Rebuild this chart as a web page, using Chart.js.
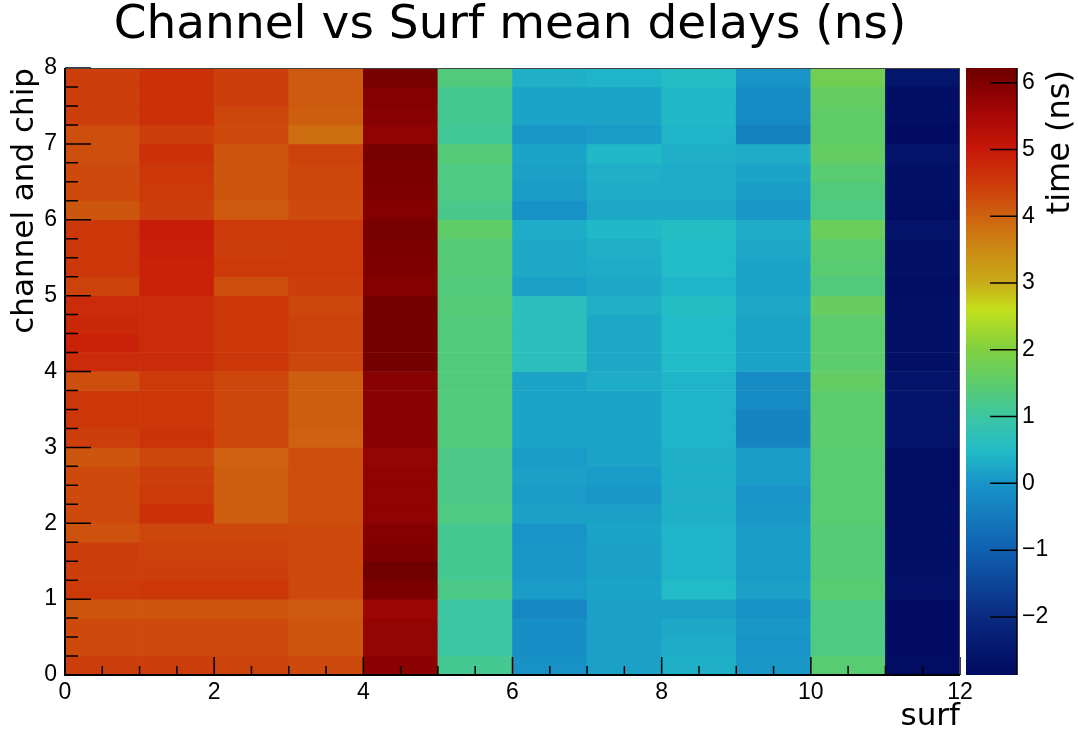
<!DOCTYPE html>
<html>
<head>
<meta charset="utf-8">
<title>Channel vs Surf mean delays</title>
<script src="https://cdn.jsdelivr.net/npm/chart.js@4.4.1/dist/chart.umd.min.js"></script>
<style>
  html, body { margin: 0; padding: 0; background: #fff; }
  #wrap { position: relative; width: 1078px; height: 734px; overflow: hidden; }
  #main { position: absolute; left: 0; top: 0; }
  #zbar { position: absolute; left: 962px; top: 0; }
  #ztitle {
    position: absolute; left: 1039px; top: 270px; width: 200px; height: 36px;
    line-height: 36px; text-align: right; white-space: nowrap;
    font: 32px "DejaVu Sans", sans-serif; color: #000;
    transform-origin: left top; transform: rotate(-90deg);
  }
</style>
</head>
<body>
<div id="wrap">
  <canvas id="main" width="1020" height="734"></canvas>
  <canvas id="zbar" width="116" height="734"></canvas>
  <div id="ztitle">time (ns)</div>
</div>
<script>
// ── Data ──────────────────────────────────────────────────────────────────
// mean delay (ns) per surf, one value per "channel and chip" bin (0 → 7.75, bottom to top)
const surf0  = [4.45,4.3,4.3,4.15,4.5,4.45,4.45,4.2,4.3,4.3,4.3,4.15,4.45,4.55,4.55,4.25,
                4.7,4.85,4.75,4.7,4.4,4.55,4.55,4.55,4.15,4.3,4.3,4.25,4.25,4.45,4.45,4.45];
const surf1  = [4.45,4.3,4.3,4.15,4.55,4.45,4.4,4.35,4.65,4.5,4.45,4.35,4.6,4.55,4.55,4.5,
                4.7,4.7,4.7,4.7,4.85,4.85,4.9,4.95,4.45,4.5,4.55,4.65,4.45,4.65,4.65,4.65];
const surf2  = [4.4,4.3,4.3,4.15,4.55,4.45,4.4,4.35,4.05,4.05,4.05,4.0,4.35,4.35,4.35,4.35,
                4.55,4.55,4.55,4.55,4.25,4.5,4.45,4.5,4.1,4.15,4.15,4.15,4.3,4.35,4.45,4.45];
const surf3  = [4.3,4.15,4.15,4.1,4.3,4.3,4.3,4.3,4.25,4.25,4.25,4.25,4.0,4.05,4.05,4.05,
                4.35,4.4,4.4,4.35,4.45,4.5,4.5,4.5,4.3,4.35,4.35,4.4,3.85,4.05,4.1,4.1];
const surf4  = [5.85,5.75,5.75,5.65,6.05,6.2,6.0,5.95,5.8,5.8,5.8,5.75,5.9,5.9,5.9,5.9,
                6.15,6.15,6.15,6.15,5.95,6.0,6.05,6.1,5.95,6.0,6.05,6.1,5.8,5.9,5.95,6.1];
const surf5  = [1.15,1.0,1.0,1.0,1.25,1.15,1.15,1.15,1.3,1.25,1.25,1.25,1.35,1.35,1.35,1.35,
                1.35,1.35,1.35,1.4,1.35,1.4,1.4,1.55,1.2,1.3,1.3,1.4,1.1,1.15,1.15,1.35];
const surf6  = [-0.05,-0.1,-0.1,-0.25,0.1,0.05,0.05,0.0,0.15,0.1,0.15,0.1,0.2,0.2,0.2,0.2,
                0.65,0.65,0.65,0.65,0.15,0.25,0.25,0.3,-0.05,0.1,0.15,0.2,0.05,0.2,0.2,0.35];
const surf7  = [0.15,0.15,0.15,0.15,0.2,0.15,0.15,0.2,0.15,0.05,0.1,0.2,0.2,0.2,0.2,0.3,
                0.25,0.25,0.25,0.35,0.25,0.3,0.35,0.45,0.25,0.3,0.35,0.45,0.1,0.2,0.2,0.4];
const surf8  = [0.35,0.3,0.25,0.15,0.5,0.4,0.4,0.4,0.35,0.35,0.35,0.35,0.4,0.4,0.4,0.4,
                0.5,0.5,0.5,0.55,0.4,0.5,0.5,0.55,0.25,0.3,0.3,0.35,0.4,0.45,0.45,0.55];
const surf9  = [0.05,0.0,0.05,-0.05,0.15,0.1,0.1,0.1,0.05,0.0,0.1,0.1,-0.3,-0.3,-0.2,-0.15,
                0.2,0.2,0.2,0.25,0.2,0.2,0.25,0.3,0.05,0.1,0.2,0.3,-0.35,-0.2,-0.15,0.0];
const surf10 = [1.45,1.3,1.3,1.3,1.45,1.4,1.4,1.4,1.45,1.45,1.45,1.45,1.5,1.5,1.5,1.6,
                1.5,1.5,1.5,1.65,1.35,1.45,1.5,1.7,1.3,1.35,1.45,1.6,1.55,1.55,1.6,1.8];
const surf11 = [-2.8,-2.85,-2.85,-2.85,-2.65,-2.7,-2.75,-2.75,-2.75,-2.75,-2.8,-2.8,-2.6,-2.6,-2.6,-2.6,
                -2.7,-2.7,-2.7,-2.7,-2.75,-2.7,-2.7,-2.6,-2.8,-2.7,-2.7,-2.6,-2.85,-2.75,-2.75,-2.55];

const SURFS      = [surf0, surf1, surf2, surf3, surf4, surf5, surf6, surf7, surf8, surf9, surf10, surf11];
const BIN_HEIGHT = 0.25;          // channel-and-chip bin width
const Z_RANGE    = [-2.87, 6.22]; // colour axis range (ns)
const Z_TICKS    = [-2, -1, 0, 1, 2, 3, 4, 5, 6];

// palette (ROOT-like rainbow), value → colour
const PAL_VALUES = [-2.87, -2, -1, 0, 0.5, 1, 1.5, 2, 2.6, 3, 3.5, 4, 4.5, 5, 5.5, 6, 6.22];
const PAL_COLORS = ['#000a60', '#0a2a80', '#1060b0', '#1894c8', '#22bcc8', '#3cc6a2', '#5ccc6c',
                    '#80d040', '#c4e01c', '#c8ac18', '#cc8a14', '#ce6210', '#cc3a0a', '#c81808',
                    '#a80806', '#800000', '#6e0000'];

const TITLE_FONT = '"DejaVu Sans", sans-serif';
const TICK_FONT  = '"Liberation Sans", Arial, sans-serif';

// ── Helpers ───────────────────────────────────────────────────────────────
function _hex(c) {
  return [1, 3, 5].map(i => parseInt(c.slice(i, i + 2), 16));
}

function zColor(v) {
  if (v <= PAL_VALUES[0]) return PAL_COLORS[0];
  for (let i = 1; i < PAL_VALUES.length; i++) {
    if (v <= PAL_VALUES[i]) {
      const f = (v - PAL_VALUES[i - 1]) / (PAL_VALUES[i] - PAL_VALUES[i - 1]);
      const a = _hex(PAL_COLORS[i - 1]), b = _hex(PAL_COLORS[i]);
      const rgb = a.map((c, k) => Math.round(c + (b[k] - c) * f));
      return `rgb(${rgb.join(',')})`;
    }
  }
  return PAL_COLORS[PAL_COLORS.length - 1];
}

function minus(v) {
  return v < 0 ? '\u2212' + Math.abs(v) : String(v);
}

// one floating bar per cell: x = surf bin centre, y = [bin low, bin high]
const cells = [];
SURFS.forEach((col, s) => {
  col.forEach((z, r) => {
    cells.push({ x: s + 0.5, y: [r * BIN_HEIGHT, (r + 1) * BIN_HEIGHT], z });
  });
});

// ── ROOT-style frame and inward ticks ─────────────────────────────────────
const rootFrame = {
  id: 'rootFrame',
  afterDatasetsDraw(chart) {
    const { ctx, chartArea: a, scales: { x, y } } = chart;
    ctx.save();
    ctx.strokeStyle = '#000';
    ctx.lineWidth = 1.5;
    ctx.beginPath();
    // x: major on even surfs, minor on odd surfs and half steps
    x.ticks.forEach((t, i) => {
      const px = x.getPixelForValue(t.value);
      const len = t.value % 2 === 0 ? 18 : 9;
      ctx.moveTo(px, a.bottom);
      ctx.lineTo(px, a.bottom - len);
      if (i > 0) {
        const mid = (px + x.getPixelForValue(x.ticks[i - 1].value)) / 2;
        ctx.moveTo(mid, a.bottom);
        ctx.lineTo(mid, a.bottom - 9);
      }
    });
    y.ticks.forEach(t => {
      const py = y.getPixelForValue(t.value);
      const len = Number.isInteger(t.value) ? 26 : 13;
      ctx.moveTo(a.left, py);
      ctx.lineTo(a.left + len, py);
    });
    ctx.stroke();
    // top / right edges thin, bottom / left thick
    ctx.lineWidth = 1;
    ctx.strokeStyle = '#444';
    ctx.strokeRect(a.left + 0.5, a.top + 0.5, a.width - 1, a.height);
    ctx.lineWidth = 2;
    ctx.strokeStyle = '#000';
    ctx.beginPath();
    ctx.moveTo(a.left, a.top);
    ctx.lineTo(a.left, a.bottom);
    ctx.lineTo(a.right, a.bottom);
    ctx.stroke();
    ctx.restore();
  }
};

const zFrame = {
  id: 'zFrame',
  afterDatasetsDraw(chart) {
    const { ctx, chartArea: a, scales: { y } } = chart;
    ctx.save();
    ctx.strokeStyle = '#000';
    ctx.lineWidth = 1.5;
    ctx.beginPath();
    y.ticks.forEach(t => {
      const py = y.getPixelForValue(t.value);
      ctx.moveTo(a.right, py);
      ctx.lineTo(a.right - 27, py);
    });
    ctx.moveTo(a.right, a.top);
    ctx.lineTo(a.right, a.bottom);
    ctx.stroke();
    ctx.restore();
  }
};

function paletteGradient(context) {
  const { chart } = context;
  const { ctx, chartArea, scales } = chart;
  if (!chartArea) return null;
  const lo = PAL_VALUES[0], hi = PAL_VALUES[PAL_VALUES.length - 1];
  const g = ctx.createLinearGradient(0, scales.y.getPixelForValue(lo), 0, scales.y.getPixelForValue(hi));
  PAL_VALUES.forEach((v, i) => g.addColorStop((v - lo) / (hi - lo), PAL_COLORS[i]));
  return g;
}

// ── Main 2D histogram ─────────────────────────────────────────────────────
new Chart(document.getElementById('main'), {
  type: 'bar',
  data: {
    datasets: [{
      data: cells,
      backgroundColor: c => zColor(c.raw ? c.raw.z : 0),
      borderWidth: 0,
      barPercentage: 1,
      categoryPercentage: 1,
    }],
  },
  options: {
    responsive: false,
    animation: false,
    events: [],
    plugins: {
      legend: { display: false },
      tooltip: { enabled: false },
      title: {
        display: true,
        text: 'Channel vs Surf mean delays (ns)',
        color: '#000',
        font: { family: TITLE_FONT, size: 47, weight: 'normal', lineHeight: 1 },
        padding: { top: 2.5, bottom: 18.5 },
      },
    },
    scales: {
      x: {
        type: 'linear', min: 0, max: 12, offset: false,
        grid: { display: false, drawTicks: false }, border: { display: false },
        ticks: {
          stepSize: 1, maxTicksLimit: 100, autoSkip: false, maxRotation: 0, padding: 4,
          color: '#000', font: { family: TICK_FONT, size: 23 },
          callback: v => (v % 2 === 0 ? v : ''),
        },
        title: {
          display: true, text: 'surf', align: 'end', color: '#000',
          font: { family: TITLE_FONT, size: 31, lineHeight: 1 },
          padding: { top: 0, bottom: 1.5 },
        },
        afterFit: s => { s.height = 59; },
      },
      y: {
        type: 'linear', min: 0, max: 8,
        grid: { display: false, drawTicks: false }, border: { display: false },
        ticks: {
          stepSize: 0.25, maxTicksLimit: 100, autoSkip: false, padding: 8,
          color: '#000', font: { family: TICK_FONT, size: 23 },
          callback: v => (Number.isInteger(v) ? v : ''),
        },
        title: {
          display: true, text: 'channel and chip', align: 'end', color: '#000',
          font: { family: TITLE_FONT, size: 31, lineHeight: 1 },
          padding: { top: 9, bottom: 0 },
        },
        afterFit: s => { s.width = 65; },
      },
      // empty box on the right so the plot frame ends where the palette starts
      gap: {
        type: 'linear', position: 'right', display: true,
        grid: { display: false, drawTicks: false }, border: { display: false }, ticks: { display: false },
        afterFit: s => { s.width = 60; },
      },
    },
  },
  plugins: [rootFrame],
});

// ── Palette axis ──────────────────────────────────────────────────────────
new Chart(document.getElementById('zbar'), {
  type: 'bar',
  data: {
    labels: [''],
    datasets: [{
      data: [Z_RANGE],
      backgroundColor: paletteGradient,
      borderWidth: 0,
      barPercentage: 1,
      categoryPercentage: 1,
    }],
  },
  options: {
    responsive: false,
    animation: false,
    events: [],
    layout: { padding: { left: 4, top: 68, bottom: 59 } },
    plugins: { legend: { display: false }, tooltip: { enabled: false } },
    scales: {
      x: { display: false },
      y: {
        position: 'right', min: Z_RANGE[0], max: Z_RANGE[1],
        grid: { display: false, drawTicks: false }, border: { display: false },
        afterBuildTicks: s => { s.ticks = Z_TICKS.map(value => ({ value })); },
        ticks: {
          padding: 5, color: '#000', font: { family: TICK_FONT, size: 23 },
          callback: v => minus(v),
        },
        afterFit: s => { s.width = 61; },
      },
    },
  },
  plugins: [zFrame],
});
</script>
</body>
</html>
